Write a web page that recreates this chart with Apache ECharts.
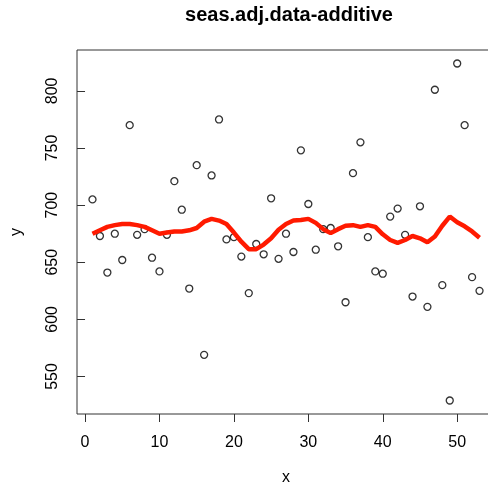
<!DOCTYPE html>
<html>
<head>
<meta charset="utf-8">
<script src="https://cdn.jsdelivr.net/npm/echarts@6/dist/echarts.min.js"></script>
<style>
  html, body { margin: 0; padding: 0; background: #fff; }
  #chart { width: 488px; height: 486px; }
</style>
</head>
<body>
<div id="chart"></div>
<script>
// observed values, t = 1..53
const obsY = [705, 673, 641, 675, 652, 770, 674, 679, 654, 642,
  674, 721, 696, 627, 735, 569, 726, 775, 670, 672,
  655, 623, 666, 657, 706, 653, 675, 659, 748, 701,
  661, 679, 680, 664, 615, 728, 755, 672, 642, 640,
  690, 697, 674, 620, 699, 611, 801, 630, 529, 824,
  770, 637, 625];
// smoothed (red) curve
const fitY = [675, 678, 681, 682.5, 683.5, 683.5, 682.5, 681, 678, 675,
  676, 677, 677, 678, 680, 685.5, 688, 686.5, 683.5, 676,
  668, 661.5, 661.5, 665.5, 671, 678.5, 683.5, 686.5, 687, 688,
  684.5, 679, 675.5, 679, 682, 682.5, 681, 682.5, 681, 674.5,
  669.5, 667, 669.5, 673, 671, 667.5, 672.5, 682, 690, 685,
  681.5, 677, 671.5];
const xTicks = [0, 10, 20, 30, 40, 50];
const yTicks = [550, 600, 650, 700, 750, 800];

const pts = obsY.map((v, i) => [i + 1, v]);
const fit = fitY.map((v, i) => [i + 1, v]);

const chart = echarts.init(document.getElementById('chart'));
const font = 'Liberation Sans, Arial, sans-serif';
chart.setOption({
  animation: false,
  title: {
    text: 'seas.adj.data-additive',
    left: 284, top: 0, textAlign: 'center',
    textStyle: { fontFamily: font, fontSize: 20, fontWeight: 'bold', color: '#000' },
  },
  grid: {
    left: 77, right: -7, top: 50, bottom: 72,
    outerBoundsMode: 'none', containLabel: false,
    show: true, borderColor: '#333', borderWidth: 1,
  },
  xAxis: {
    type: 'value', min: -1.08, max: 55.08,
    name: 'x', nameLocation: 'middle', nameGap: 56,
    nameTextStyle: { fontFamily: font, fontSize: 16, color: '#000' },
    splitLine: { show: false },
    axisLine: { show: false },
    axisTick: { show: true, inside: false, length: 8, customValues: xTicks, lineStyle: { color: '#333' } },
    axisLabel: { customValues: xTicks, margin: 21, fontFamily: font, fontSize: 16, color: '#000' },
  },
  yAxis: {
    type: 'value', min: 517.2, max: 835.8,
    name: 'y', nameLocation: 'middle', nameGap: 52, nameRotate: 90,
    nameTextStyle: { fontFamily: font, fontSize: 16, color: '#000' },
    splitLine: { show: false },
    axisLine: { show: false },
    axisTick: { show: true, inside: false, length: 8, customValues: yTicks, lineStyle: { color: '#333' } },
    axisLabel: { customValues: yTicks, rotate: 90, margin: 16, fontFamily: font, fontSize: 16, color: '#000' },
  },
  series: [
    {
      type: 'scatter', data: pts, symbol: 'circle', symbolSize: 7,
      itemStyle: { color: 'rgba(255,255,255,0)', borderColor: '#000', borderWidth: 1.3 },
      z: 2,
    },
    {
      type: 'line', data: fit, showSymbol: false, smooth: false,
      lineStyle: { color: '#ff1a00', width: 4.5 },
      z: 3,
    },
  ],
});
</script>
</body>
</html>
